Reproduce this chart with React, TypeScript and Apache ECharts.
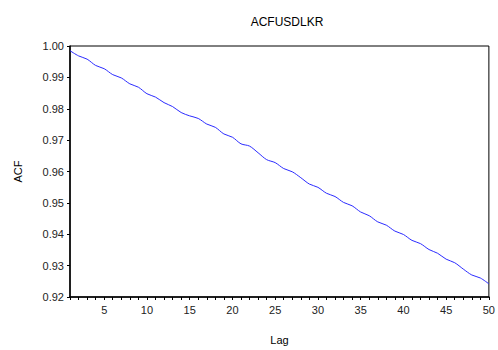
import React, { useEffect, useRef } from "react";
import * as echarts from "echarts";

const titleText = "ACFUSDLKR";
const xName = "Lag";
const yName = "ACF";
const lags: number[] = Array.from({ length: 50 }, (_, i) => i + 1);
const acfValues: number[] = [
  0.9985, 0.99685, 0.99581, 0.9938, 0.99276, 0.99087, 0.98983, 0.98794, 0.98687, 0.98479,
  0.98372, 0.98195, 0.98069, 0.9788, 0.97773, 0.97691, 0.97512, 0.97408, 0.97197, 0.97093,
  0.96882, 0.9681, 0.96598, 0.96378, 0.96283, 0.96094, 0.95991, 0.95802, 0.956, 0.95496,
  0.95307, 0.95203, 0.95014, 0.94907, 0.94709, 0.94591, 0.94394, 0.9429, 0.94101, 0.93994,
  0.93805, 0.93701, 0.93512, 0.93394, 0.93206, 0.93093, 0.92891, 0.92702, 0.92606, 0.92419,
];

export default function App() {
  const ref = useRef<HTMLDivElement>(null);
  useEffect(() => {
    if (!ref.current) return;
    const chart = echarts.init(ref.current, undefined, { renderer: "svg" });
    const font = "Arial, 'Liberation Sans', sans-serif";
    chart.setOption({
      animation: false,
      backgroundColor: "#ffffff",
      title: {
        text: titleText,
        left: 282,
        textAlign: "center",
        top: 11,
        textStyle: { fontSize: 12, fontWeight: "normal", color: "#000", fontFamily: font },
      },
      grid: {
        left: 70,
        right: 4,
        top: 46,
        bottom: 50,
        show: true,
        borderColor: "#000",
        borderWidth: 1,
        backgroundColor: "#fff",
      },
      xAxis: {
        type: "value",
        min: 1,
        max: 50,
        interval: 1,
        name: xName,
        nameLocation: "middle",
        nameGap: 37,
        nameTextStyle: { fontSize: 11, color: "#000", fontFamily: font },
        axisLine: { show: true, lineStyle: { color: "#000", width: 1.5 } },
        axisTick: { show: true, length: 3, inside: false, lineStyle: { color: "#000" } },
        axisLabel: {
          fontSize: 11,
          color: "#222",
          fontFamily: font,
          margin: 7,
          showMinLabel: true,
          showMaxLabel: true,
          formatter: (v: number) => (v % 5 === 0 ? String(v) : ""),
        },
        splitLine: { show: false },
      },
      yAxis: {
        type: "value",
        min: 0.92,
        max: 1.0,
        interval: 0.01,
        name: yName,
        nameLocation: "middle",
        nameGap: 47,
        nameTextStyle: { fontSize: 11, color: "#000", fontFamily: font },
        axisLine: { show: true, lineStyle: { color: "#000", width: 1.5 } },
        axisTick: { show: true, length: 3, lineStyle: { color: "#000" } },
        axisLabel: {
          fontSize: 11,
          color: "#222",
          fontFamily: font,
          margin: 6,
          formatter: (v: number) => v.toFixed(2),
        },
        splitLine: { show: false },
      },
      series: [
        {
          type: "line",
          data: lags.map((l, i) => [l, acfValues[i]]),
          showSymbol: false,
          smooth: 0.3,
          lineStyle: { color: "#2b2bff", width: 1 },
        },
      ],
    });
    return () => chart.dispose();
  }, []);
  return <div ref={ref} style={{ width: 498, height: 350, position: "absolute", left: 0, top: 0 }} />;
}
